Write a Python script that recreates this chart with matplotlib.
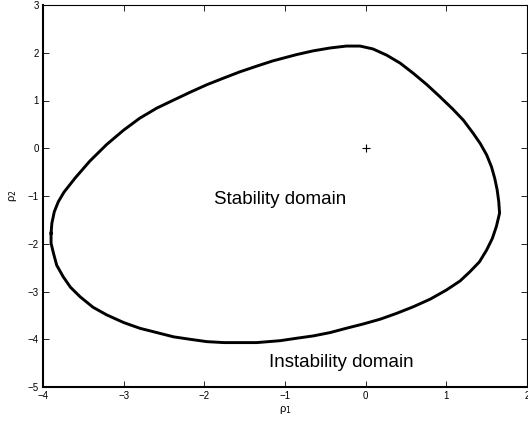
import matplotlib
matplotlib.use("Agg")
import matplotlib.pyplot as plt

plt.rcParams['font.family'] = ['Liberation Sans', 'DejaVu Sans']

# Boundary of the stability domain (rho1, rho2)
rho1 = [-3.90, -3.89, -3.86, -3.81, -3.74, -3.60, -3.42, -3.21, -3.00, -2.80,
        -2.59, -2.38, -2.18, -1.97, -1.76, -1.56, -1.35, -1.15, -0.86, -0.65,
        -0.44, -0.24, -0.07, 0.09, 0.26, 0.43, 0.59, 0.76, 0.92, 1.08,
        1.21, 1.33, 1.42, 1.50, 1.56, 1.60, 1.63, 1.65, 1.66, 1.62,
        1.57, 1.50, 1.41, 1.29, 1.17, 1.00, 0.80, 0.59, 0.38, 0.18,
        -0.03, -0.24, -0.44, -0.65, -0.86, -1.06, -1.35, -1.56, -1.76, -1.97,
        -2.18, -2.38, -2.59, -2.80, -3.00, -3.21, -3.38, -3.54, -3.66, -3.75,
        -3.83, -3.87, -3.90, -3.90]
rho2 = [-1.78, -1.57, -1.33, -1.12, -0.92, -0.62, -0.27, 0.08, 0.38, 0.63,
        0.84, 1.01, 1.17, 1.33, 1.47, 1.60, 1.72, 1.83, 1.96, 2.04,
        2.10, 2.14, 2.14, 2.08, 1.95, 1.78, 1.57, 1.33, 1.08, 0.82,
        0.59, 0.32, 0.10, -0.14, -0.39, -0.63, -0.87, -1.12, -1.36, -1.64,
        -1.89, -2.13, -2.38, -2.59, -2.78, -2.97, -3.16, -3.32, -3.46, -3.58,
        -3.68, -3.77, -3.86, -3.93, -3.98, -4.03, -4.07, -4.07, -4.07, -4.05,
        -4.00, -3.95, -3.86, -3.77, -3.65, -3.49, -3.33, -3.11, -2.91, -2.69,
        -2.45, -2.20, -1.99, -1.78]

equilibrium = (0.0, 0.0)
xticks = [-4, -3, -2, -1, 0, 1, 2]
yticks = [-5, -4, -3, -2, -1, 0, 1, 2, 3]

fig = plt.figure(figsize=(5.28, 4.24), dpi=100)
ax = fig.add_axes([43/528, 37/424, 484/528, 382/424])

ax.plot(rho1, rho2, color='black', lw=2.1, solid_joinstyle='round')
ax.plot([equilibrium[0]], [equilibrium[1]], marker='+', color='black',
        markersize=6, mew=0.8, linestyle='none')

ax.text(-1.06, -1.08, 'Stability domain', fontsize=13.5, ha='center', va='center')
ax.text(-0.30, -4.49, 'Instability domain', fontsize=13.5, ha='center', va='center')

ax.set_xlim(-4, 2)
ax.set_ylim(-5, 3)
ax.set_xticks(xticks)
ax.set_yticks(yticks)
ax.tick_params(direction='in', length=4, width=0.6, labelsize=7, pad=3,
               top=True, right=True)

for s in ['left', 'bottom']:
    ax.spines[s].set_linewidth(1.5)
for s in ['top', 'right']:
    ax.spines[s].set_linewidth(0.8)

ax.set_xlabel('ρ$_1$', fontsize=8, labelpad=2)
ax.set_ylabel('ρ$_2$', fontsize=8, labelpad=6)

fig.savefig('out.png', dpi=100)
